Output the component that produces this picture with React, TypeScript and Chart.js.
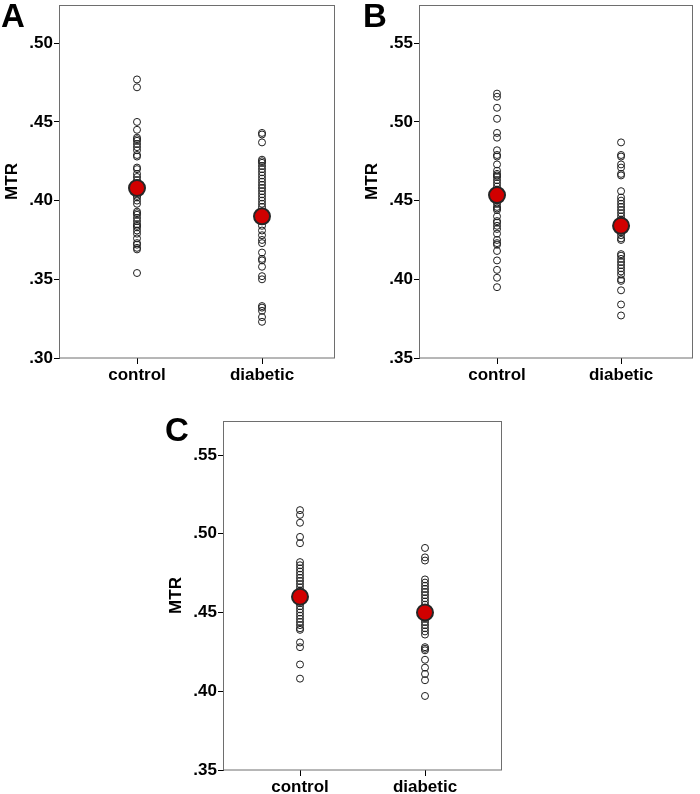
import React, { useEffect, useRef } from "react";
import { Chart, registerables } from "chart.js";
Chart.register(...registerables);

const FONT = "Arial, 'Liberation Sans', Helvetica, sans-serif";

const groups = ["control", "diabetic"];
const panelLetters = ["A", "B", "C"];

// Panel A
const aControl = [0.477, 0.472, 0.45, 0.445, 0.44, 0.439, 0.438, 0.436, 0.434, 0.432, 0.429, 0.428, 0.421, 0.42, 0.417, 0.415, 0.413, 0.411, 0.409, 0.407, 0.405, 0.403, 0.402, 0.4, 0.398, 0.393, 0.392, 0.391, 0.389, 0.387, 0.385, 0.384, 0.383, 0.381, 0.379, 0.376, 0.373, 0.372, 0.37, 0.369, 0.354];
const aDiabetic = [0.443, 0.442, 0.437, 0.426, 0.425, 0.424, 0.422, 0.42, 0.418, 0.416, 0.414, 0.412, 0.41, 0.408, 0.406, 0.404, 0.402, 0.4, 0.398, 0.396, 0.393, 0.389, 0.387, 0.384, 0.381, 0.378, 0.375, 0.373, 0.367, 0.363, 0.362, 0.358, 0.352, 0.35, 0.333, 0.332, 0.33, 0.326, 0.323];
const aMeans = [0.408, 0.39];
const aTicks = [0.3, 0.35, 0.4, 0.45, 0.5];

// Panel B
const bControl = [0.518, 0.516, 0.509, 0.502, 0.493, 0.49, 0.482, 0.479, 0.478, 0.473, 0.469, 0.467, 0.466, 0.465, 0.463, 0.461, 0.459, 0.457, 0.455, 0.452, 0.45, 0.448, 0.446, 0.445, 0.444, 0.44, 0.437, 0.436, 0.434, 0.432, 0.429, 0.425, 0.423, 0.422, 0.418, 0.412, 0.406, 0.401, 0.395];
const bDiabetic = [0.487, 0.479, 0.478, 0.473, 0.471, 0.467, 0.466, 0.456, 0.452, 0.45, 0.448, 0.446, 0.444, 0.442, 0.44, 0.438, 0.436, 0.432, 0.43, 0.428, 0.426, 0.425, 0.416, 0.415, 0.413, 0.411, 0.409, 0.407, 0.405, 0.403, 0.4, 0.399, 0.393, 0.384, 0.377];
const bMeans = [0.4535, 0.434];
const bTicks = [0.35, 0.4, 0.45, 0.5, 0.55];

// Panel C
const cControl = [0.515, 0.512, 0.507, 0.498, 0.494, 0.482, 0.48, 0.478, 0.476, 0.474, 0.472, 0.47, 0.468, 0.466, 0.464, 0.462, 0.458, 0.456, 0.454, 0.452, 0.45, 0.448, 0.446, 0.444, 0.442, 0.44, 0.439, 0.431, 0.428, 0.417, 0.408];
const cDiabetic = [0.491, 0.485, 0.483, 0.471, 0.469, 0.467, 0.465, 0.463, 0.461, 0.459, 0.457, 0.455, 0.453, 0.451, 0.448, 0.446, 0.444, 0.442, 0.44, 0.438, 0.436, 0.428, 0.427, 0.426, 0.42, 0.415, 0.411, 0.407, 0.397];
const cMeans = [0.46, 0.45];
const cTicks = [0.35, 0.4, 0.45, 0.5, 0.55];

const framePlugin = {
  id: "frame",
  beforeDatasetsDraw(chart: any) {
    const { ctx, chartArea } = chart;
    const { left, top, right, bottom } = chartArea;
    ctx.save();
    ctx.strokeStyle = "#6e6e6e";
    ctx.lineWidth = 1;
    ctx.strokeRect(Math.round(left) - 0.5, Math.round(top) + 0.5, Math.round(right - left), Math.round(bottom - top) - 0.5);
    ctx.restore();
  },
  afterDraw(chart: any, _args: any, opts: any) {
    const { ctx } = chart;
    ctx.save();
    ctx.fillStyle = "#000";
    ctx.font = `bold 33px ${FONT}`;
    ctx.textBaseline = "alphabetic";
    ctx.textAlign = "left";
    ctx.fillText(opts.letter, opts.lx, opts.ly);
    ctx.restore();
  },
};

function zeroPad(s: any) {
  s.paddingTop = 0;
  s.paddingBottom = 0;
  s.paddingLeft = 0;
  s.paddingRight = 0;
}

type PanelProps = {
  letter: string;
  control: number[];
  diabetic: number[];
  means: number[];
  yTicks: number[];
  yMin: number;
  yMax: number;
  xMin: number;
  xMax: number;
  left: number;
  top: number;
  width: number;
  height: number;
  padRight: number;
  xAxisH: number;
  lx: number;
  ly: number;
};

function Panel(p: PanelProps) {
  const ref = useRef<HTMLCanvasElement | null>(null);
  useEffect(() => {
    if (!ref.current) return;
    const tickFont = { family: FONT, size: 17, weight: "bold" as const };
    const chart = new Chart(ref.current, {
      type: "scatter",
      data: {
        datasets: [
          {
            label: "mean",
            data: p.means.map((m, i) => ({ x: i + 1, y: m })),
            pointRadius: 8,
            pointHoverRadius: 8,
            backgroundColor: "#d10000",
            borderColor: "#262626",
            borderWidth: 2,
          },
          {
            label: groups[0],
            data: p.control.map((v) => ({ x: 1, y: v })),
            pointRadius: 3.5,
            backgroundColor: "rgba(255,255,255,0)",
            borderColor: "#1e1e1e",
            borderWidth: 1,
          },
          {
            label: groups[1],
            data: p.diabetic.map((v) => ({ x: 2, y: v })),
            pointRadius: 3.5,
            backgroundColor: "rgba(255,255,255,0)",
            borderColor: "#1e1e1e",
            borderWidth: 1,
          },
        ],
      },
      options: {
        animation: false,
        responsive: false,
        devicePixelRatio: 1,
        layout: { autoPadding: false, padding: { left: 0, top: 5, right: p.padRight, bottom: 0 } },
        plugins: {
          legend: { display: false },
          tooltip: { enabled: false },
          frame: { letter: p.letter, lx: p.lx, ly: p.ly },
        } as any,
        scales: {
          x: {
            type: "linear",
            min: p.xMin,
            max: p.xMax,
            afterBuildTicks: (s: any) => {
              s.ticks = groups.map((_, i) => ({ value: i + 1 }));
            },
            afterFit: (s: any) => {
              s.height = p.xAxisH;
              zeroPad(s);
            },
            ticks: {
              callback: (_v: any, i: number) => groups[i],
              font: tickFont,
              color: "#000",
              padding: 1,
              maxRotation: 0,
              autoSkip: false,
            },
            grid: { drawOnChartArea: false, drawTicks: true, tickLength: 6, color: "#000" },
            border: { display: false },
          },
          y: {
            type: "linear",
            min: p.yMin,
            max: p.yMax,
            afterBuildTicks: (s: any) => {
              s.ticks = p.yTicks.map((v) => ({ value: v }));
            },
            afterFit: (s: any) => {
              s.width = 60;
              zeroPad(s);
            },
            ticks: {
              callback: (v: any) => Number(v).toFixed(2).replace(/^0/, ""),
              font: tickFont,
              color: "#000",
              padding: 1,
              autoSkip: false,
            },
            grid: { drawOnChartArea: false, drawTicks: true, tickLength: 6, color: "#000" },
            border: { display: false },
            title: {
              display: true,
              text: "MTR",
              font: tickFont,
              color: "#000",
              padding: { top: 2, bottom: 0 },
            },
          },
        },
      },
      plugins: [framePlugin as any],
    });
    return () => chart.destroy();
  }, []);
  return (
    <canvas
      ref={ref}
      width={p.width}
      height={p.height}
      style={{ position: "absolute", left: p.left, top: p.top, width: p.width, height: p.height }}
    />
  );
}

export default function App() {
  return (
    <div style={{ position: "fixed", left: 0, top: 0, width: 700, height: 794, background: "#fff", overflow: "hidden" }}>
      <Panel
        letter={panelLetters[0]}
        control={aControl}
        diabetic={aDiabetic}
        means={aMeans}
        yTicks={aTicks}
        yMin={0.3}
        yMax={0.5243}
        xMin={0.384}
        xMax={2.584}
        left={0}
        top={0}
        width={340}
        height={392}
        padRight={5}
        xAxisH={34}
        lx={1}
        ly={27}
      />
      <Panel
        letter={panelLetters[1]}
        control={bControl}
        diabetic={bDiabetic}
        means={bMeans}
        yTicks={bTicks}
        yMin={0.35}
        yMax={0.5743}
        xMin={0.379}
        xMax={2.58}
        left={360}
        top={0}
        width={340}
        height={392}
        padRight={7}
        xAxisH={34}
        lx={3}
        ly={27}
      />
      <Panel
        letter={panelLetters[2]}
        control={cControl}
        diabetic={cDiabetic}
        means={cMeans}
        yTicks={cTicks}
        yMin={0.35}
        yMax={0.5716}
        xMin={0.392}
        xMax={2.616}
        left={164}
        top={416}
        width={340}
        height={378}
        padRight={2}
        xAxisH={24}
        lx={1}
        ly={25}
      />
    </div>
  );
}
